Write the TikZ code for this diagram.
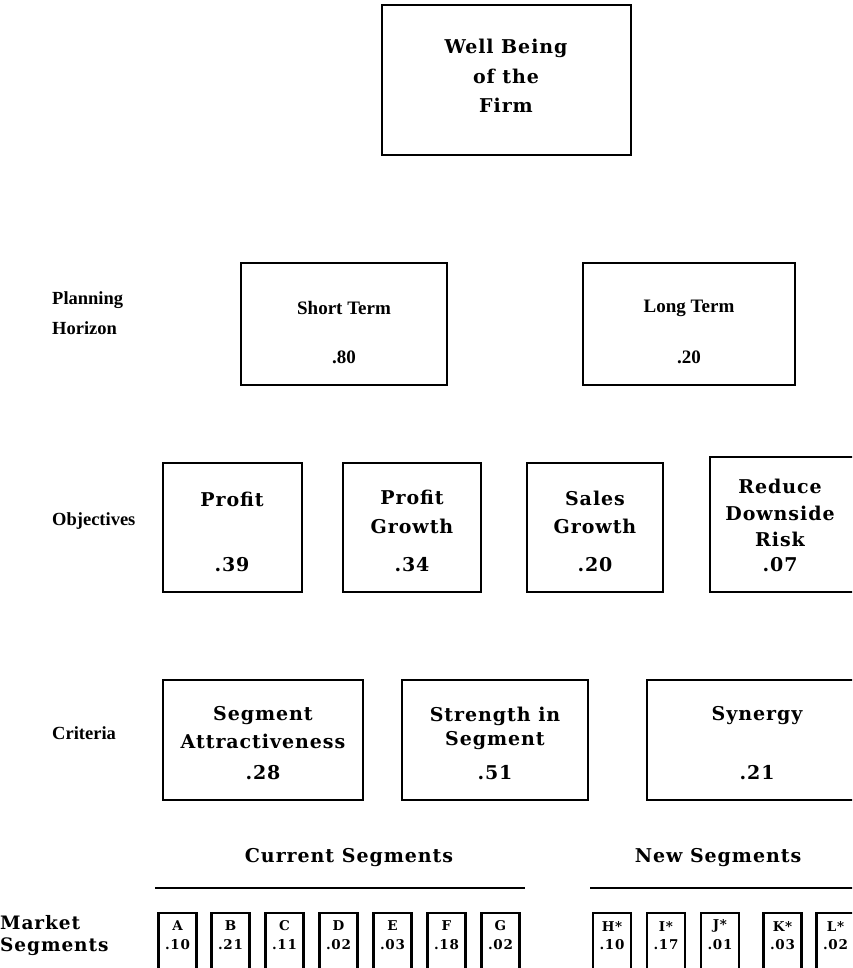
\documentclass[tikz,border=0pt]{standalone}
\usepackage{fontspec}
\newfontfamily\widefont[LetterSpace=5]{DejaVu Serif}
\newfontfamily\narrowfont{Liberation Serif}
\begin{document}
\begin{tikzpicture}[x=1pt,y=-1pt,
  box/.style={draw, line width=2.2pt, inner sep=0pt},
  sbox/.style={draw, line width=2.2pt, inner sep=0pt, minimum width=38pt, minimum height=70pt},
  txt/.style={font=\widefont\fontsize{19}{21}\selectfont\bfseries, inner sep=0pt},
  ntxt/.style={font=\narrowfont\fontsize{19}{21}\selectfont\bfseries, inner sep=0pt},
  lbl/.style={font=\narrowfont\fontsize{18.5}{20}\selectfont\bfseries, inner sep=0pt, anchor=west},
  wlbl/.style={font=\widefont\fontsize{18.5}{20}\selectfont\bfseries, inner sep=0pt, anchor=west},
  stxt/.style={font=\widefont\fontsize{13.5}{15}\selectfont\bfseries, inner sep=0pt},
  rule/.style={line width=2.6pt}]
\useasboundingbox (0,0) rectangle (852,968);
\clip (0,0) rectangle (852,968);

% top
\node[box, minimum width=249pt, minimum height=150pt] (firm) at (506.5,80) {};
\node[txt] (firm1) at (506,48) {Well Being};
\node[txt] (firm2) at (506,76) {of the};
\node[txt] (firm3) at (506,105) {Firm};

% planning horizon
\node[lbl] (ph1) at (52,300) {Planning};
\node[lbl] (ph2) at (52,328) {Horizon};
\node[box, minimum width=206pt, minimum height=122pt] (st) at (344,324) {};
\node[ntxt] (st1) at (344,308) {Short Term};
\node[ntxt] (st2) at (344,357) {.80};
\node[box, minimum width=212pt, minimum height=122pt] (lt) at (689,324) {};
\node[ntxt] (lt1) at (689,308) {Long Term};
\node[ntxt] (lt2) at (689,357) {.20};

% objectives
\node[lbl] (ob) at (52,521) {Objectives};
\node[box, minimum width=139pt, minimum height=129pt] (o1) at (232.5,527.5) {};
\node[txt] (o1a) at (232,499) {Profit};
\node[txt] (o1b) at (232,565) {.39};
\node[box, minimum width=138pt, minimum height=129pt] (o2) at (412,527.5) {};
\node[txt] (o2a) at (412,497) {Profit};
\node[txt] (o2b) at (412,526) {Growth};
\node[txt] (o2c) at (412,565) {.34};
\node[box, minimum width=136pt, minimum height=129pt] (o3) at (595,527.5) {};
\node[txt] (o3a) at (595,498) {Sales};
\node[txt] (o3b) at (595,526) {Growth};
\node[txt] (o3c) at (595,565) {.20};
\node[box, minimum width=150pt, minimum height=135pt] (o4) at (785,524.5) {};
\node[txt] (o4a) at (780,486) {Reduce};
\node[txt] (o4b) at (780,513) {Downside};
\node[txt] (o4c) at (780,539) {Risk};
\node[txt] (o4d) at (780,565) {.07};

% criteria
\node[lbl] (cr) at (52,733) {Criteria};
\node[box, minimum width=200pt, minimum height=120pt] (c1) at (263,740) {};
\node[txt] (c1a) at (263,716) {Segment};
\node[txt] (c1b) at (263,741) {Attractiveness};
\node[txt] (c1c) at (263,773) {.28};
\node[box, minimum width=186pt, minimum height=120pt] (c2) at (495,740) {};
\node[txt] (c2a) at (495,716) {Strength in};
\node[txt] (c2b) at (495,741) {Segment};
\node[txt] (c2c) at (495,773) {.51};
\node[box, minimum width=222pt, minimum height=120pt] (c3) at (758,740) {};
\node[txt] (c3a) at (757,716) {Synergy};
\node[txt] (c3b) at (757,773) {.21};

% market segments
\node[txt] (cs) at (349,858) {Current Segments};
\coordinate (csl) at (155,888);
\coordinate (csr) at (525,888);
\draw[rule] (csl) -- (csr);
\node[txt] (ns) at (718,858) {New Segments};
\coordinate (nsl) at (590,888);
\coordinate (nsr) at (860,888);
\draw[rule] (nsl) -- (nsr);

\node[wlbl] (ms1) at (0,923) {Market};
\node[wlbl] (ms2) at (0,947) {Segments};

\foreach \n/\x/\v in {A/177.5/.10, B/230.5/.21, C/284.5/.11, D/338.5/.02, E/392.5/.03, F/446.5/.18, G/500.5/.02} {
  \node[sbox] (seg\n) at (\x,948) {};
  \node[stxt] (seg\n l) at (\x,926) {\n};
  \node[stxt] (seg\n v) at (\x,945) {\v};
}
\foreach \n/\x/\v in {H/612/.10, I/666/.17, J/720/.01, K/782.5/.03, L/835.5/.02} {
  \node[sbox] (seg\n) at (\x,948) {};
  \node[stxt] (seg\n l) at (\x,926) {\n*};
  \node[stxt] (seg\n v) at (\x,945) {\v};
}
\end{tikzpicture}
\end{document}
